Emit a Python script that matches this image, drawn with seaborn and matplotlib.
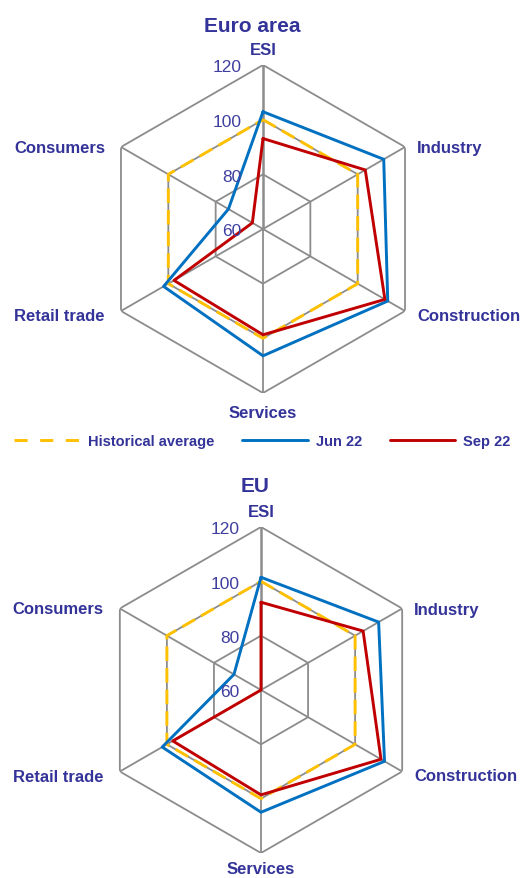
import numpy as np
import pandas as pd
import matplotlib
matplotlib.use("Agg")
import matplotlib.pyplot as plt
import seaborn as sns
from matplotlib.lines import Line2D

# categories clockwise from the top
categories = ["ESI", "Industry", "Construction", "Services", "Retail trade", "Consumers"]
series_names = ["Historical average", "Jun 22", "Sep 22"]

euro_hist = [100, 100, 100, 100, 100, 100]
euro_jun = [102.9, 111.0, 112.7, 106.4, 102.0, 74.6]
euro_sep = [93.1, 103.2, 111.5, 98.7, 97.6, 64.5]

eu_hist = [100, 100, 100, 100, 100, 100]
eu_jun = [101.5, 110.0, 112.5, 105.0, 102.0, 71.5]
eu_sep = [92.3, 103.4, 111.0, 98.6, 97.5, 60.0]

r_ticks = [60, 80, 100, 120]
grid_rings = [80, 100, 120]

TEXT = "#333399"
TICK = "#3f3fa0"
GRID = "#8c8c8c"
COLORS = {"Historical average": "#ffc000", "Jun 22": "#0070c0", "Sep 22": "#c00000"}

sns.set_theme(style="white")
plt.rcParams["font.family"] = ["Liberation Sans", "DejaVu Sans"]

W, H = 523, 879
fig = plt.figure(figsize=(W / 100, H / 100), dpi=100)
fig.patch.set_facecolor("white")

angles = np.deg2rad(np.arange(0, 360, 60))
closed = np.append(angles, angles[0])

# label offsets from the outer vertex, in pixels (x right, y down)
label_offsets = {
    "ESI": (0, -11, "center"),
    "Industry": (12, 5, "left"),
    "Construction": (12, 9, "left"),
    "Services": (0, 24, "center"),
    "Retail trade": (-107, 9, "left"),
    "Consumers": (-107, 5, "left"),
}


def px(v):
    return v * 0.72


def radar(cx, cy, R, data, title, title_x, title_base, services_dy=24):
    ax = fig.add_axes([(cx - R) / W, 1 - (cy + R) / H, 2 * R / W, 2 * R / H], projection="polar")
    ax.set_theta_offset(np.pi / 2)
    ax.set_theta_direction(-1)
    ax.set_ylim(60, 120)
    ax.grid(False)
    ax.spines["polar"].set_visible(False)
    ax.set_xticks([])
    ax.set_yticks([])
    ax.patch.set_alpha(0)

    for v in grid_rings:
        ax.plot(closed, [v] * len(closed), color=GRID, lw=1.3, zorder=1)
    for i, a in enumerate(angles):
        ax.plot([a, a], [60, 120], color=GRID, lw=1.8 if i == 0 else 1.3, zorder=1)

    for name, vals in zip(series_names, data):
        df = pd.DataFrame({"theta": closed, "value": list(vals) + [vals[0]]})
        kw = dict(dashes=(5, 2.4)) if name == "Historical average" else {}
        sns.lineplot(data=df, x="theta", y="value", sort=False, estimator=None,
                     color=COLORS[name], lw=2.1, ax=ax, zorder=3, **kw)
    ax.set_xlabel("")
    ax.set_ylabel("")
    ax.set_ylim(60, 120)

    for v in r_ticks:
        ax.annotate(str(v), xy=(0, v), xytext=(px(-21.5), px(-6.5)), textcoords="offset points",
                    ha="right", va="baseline", fontsize=12.5, color=TICK)

    for a, cat in zip(angles, categories):
        dx, dy, ha = label_offsets[cat]
        if cat == "Services":
            dy = services_dy
        ax.annotate(cat, xy=(a, 120), xytext=(px(dx), px(-dy)), textcoords="offset points",
                    ha=ha, va="baseline", fontsize=12, fontweight="bold", color=TEXT,
                    annotation_clip=False)

    fig.text(title_x / W, 1 - title_base / H, title, ha="center", va="baseline",
             fontsize=15, fontweight="bold", color=TEXT)
    return ax


radar(263, 230, 164, [euro_hist, euro_jun, euro_sep], "Euro area", 252, 32)
radar(261, 691, 163, [eu_hist, eu_jun, eu_sep], "EU", 255, 492.3, services_dy=20)

handles = [
    Line2D([], [], color=COLORS["Historical average"], lw=2.1, dashes=(4.5, 4.3)),
    Line2D([], [], color=COLORS["Jun 22"], lw=2.1),
    Line2D([], [], color=COLORS["Sep 22"], lw=2.1),
]
fig.legend(handles, series_names, loc="center", bbox_to_anchor=(262.5 / W, 1 - 442 / H),
           ncol=3, frameon=False, handlelength=4.5, handletextpad=0.55, columnspacing=1.9,
           borderpad=0, labelcolor=TEXT, prop={"size": 10.5, "weight": "bold"})

fig.savefig("out.png", dpi=100, facecolor="white")
